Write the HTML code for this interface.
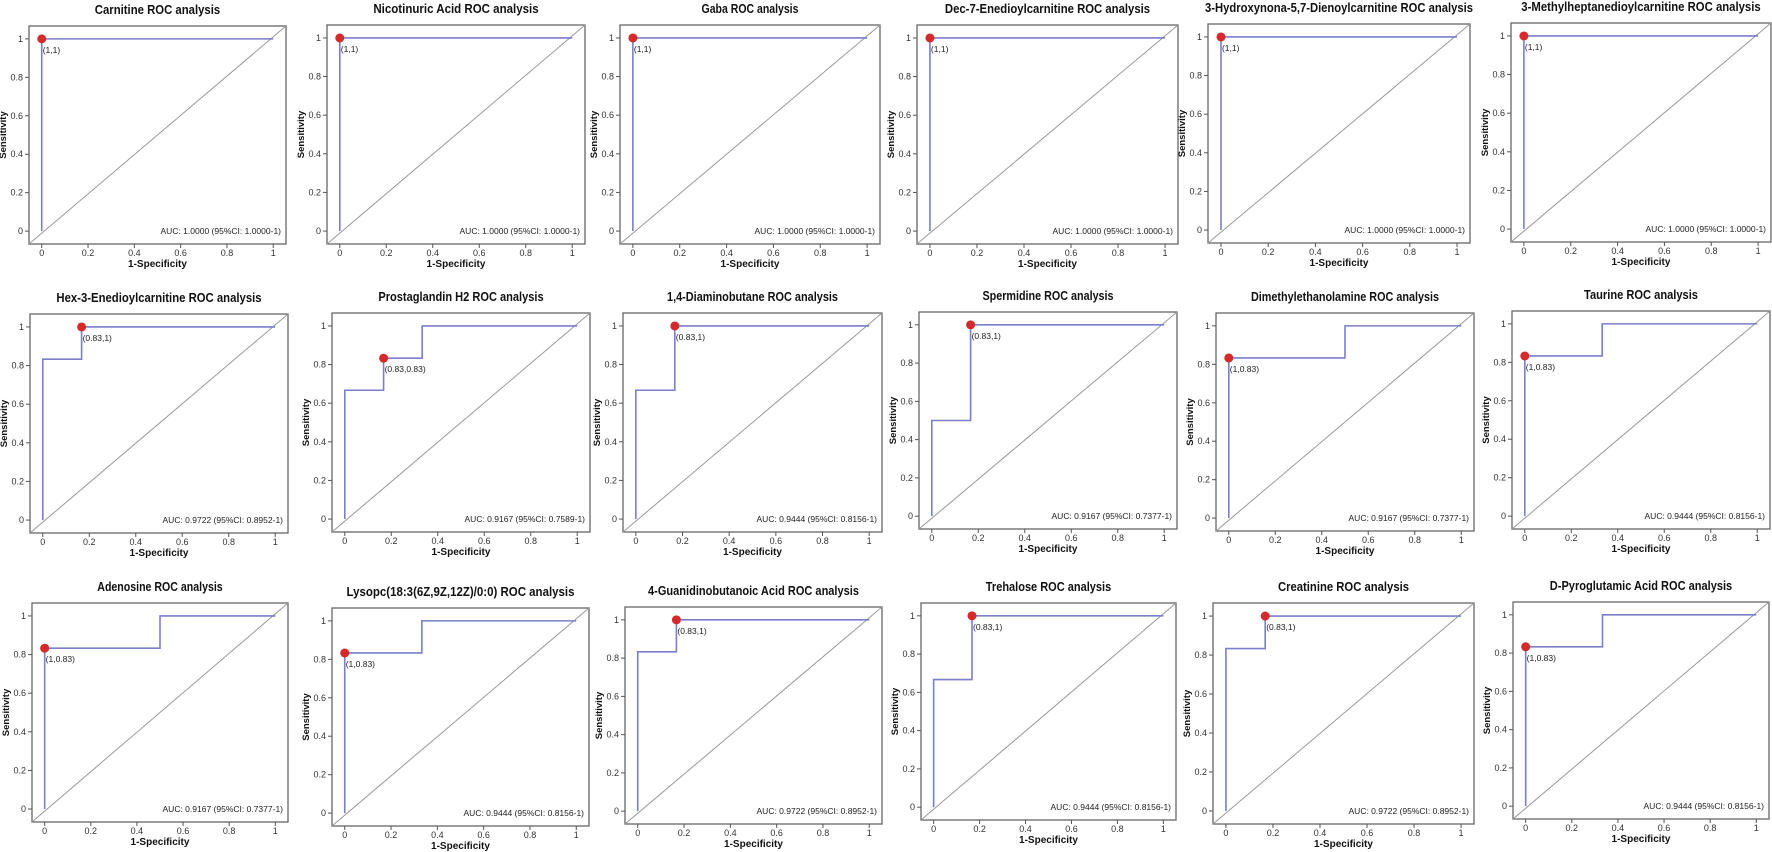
<!DOCTYPE html>
<html><head><meta charset="utf-8"><style>
html,body{margin:0;padding:0;background:#fff;}
svg{display:block;font-family:"Liberation Sans",Arial,sans-serif;}
</style></head><body>
<svg id="chart" width="1772" height="852" viewBox="0 0 1772 852" xmlns="http://www.w3.org/2000/svg"></svg>
<script>
const titles = ["Carnitine","Nicotinuric Acid","Gaba","Dec-7-Enedioylcarnitine","3-Hydroxynona-5,7-Dienoylcarnitine","3-Methylheptanedioylcarnitine",
"Hex-3-Enedioylcarnitine","Prostaglandin H2","1,4-Diaminobutane","Spermidine","Dimethylethanolamine","Taurine",
"Adenosine","Lysopc(18:3(6Z,9Z,12Z)/0:0)","4-Guanidinobutanoic Acid","Trehalose","Creatinine","D-Pyroglutamic Acid"];
const fprSeries = [
[0,0,1],[0,0,1],[0,0,1],[0,0,1],[0,0,1],[0,0,1],
[0,0,0.167,0.167,1],[0,0,0.167,0.167,0.333,0.333,1],[0,0,0.167,0.167,1],[0,0,0.167,0.167,1],[0,0,0.5,0.5,1],[0,0,0.333,0.333,1],
[0,0,0.5,0.5,1],[0,0,0.333,0.333,1],[0,0,0.167,0.167,1],[0,0,0.167,0.167,1],[0,0,0.167,0.167,1],[0,0,0.333,0.333,1]];
const tprSeries = [
[0,1,1],[0,1,1],[0,1,1],[0,1,1],[0,1,1],[0,1,1],
[0,0.833,0.833,1,1],[0,0.667,0.667,0.833,0.833,1,1],[0,0.667,0.667,1,1],[0,0.5,0.5,1,1],[0,0.833,0.833,1,1],[0,0.833,0.833,1,1],
[0,0.833,0.833,1,1],[0,0.833,0.833,1,1],[0,0.833,0.833,1,1],[0,0.667,0.667,1,1],[0,0.833,0.833,1,1],[0,0.833,0.833,1,1]];
const optFpr = [0,0,0,0,0,0, 0.167,0.167,0.167,0.167,0,0, 0,0,0.167,0.167,0.167,0];
const optTpr = [1,1,1,1,1,1, 1,0.833,1,1,0.833,0.833, 0.833,0.833,1,1,1,0.833];
const optLabels = ["(1,1)","(1,1)","(1,1)","(1,1)","(1,1)","(1,1)","(0.83,1)","(0.83,0.83)","(0.83,1)","(0.83,1)","(1,0.83)","(1,0.83)","(1,0.83)","(1,0.83)","(0.83,1)","(0.83,1)","(0.83,1)","(1,0.83)"];
const aucLabels = ["AUC: 1.0000 (95%CI: 1.0000-1)","AUC: 1.0000 (95%CI: 1.0000-1)","AUC: 1.0000 (95%CI: 1.0000-1)","AUC: 1.0000 (95%CI: 1.0000-1)","AUC: 1.0000 (95%CI: 1.0000-1)","AUC: 1.0000 (95%CI: 1.0000-1)",
"AUC: 0.9722 (95%CI: 0.8952-1)","AUC: 0.9167 (95%CI: 0.7589-1)","AUC: 0.9444 (95%CI: 0.8156-1)","AUC: 0.9167 (95%CI: 0.7377-1)","AUC: 0.9167 (95%CI: 0.7377-1)","AUC: 0.9444 (95%CI: 0.8156-1)",
"AUC: 0.9167 (95%CI: 0.7377-1)","AUC: 0.9444 (95%CI: 0.8156-1)","AUC: 0.9722 (95%CI: 0.8952-1)","AUC: 0.9444 (95%CI: 0.8156-1)","AUC: 0.9722 (95%CI: 0.8952-1)","AUC: 0.9444 (95%CI: 0.8156-1)"];
const tickValues = [0,0.2,0.4,0.6,0.8,1];
const tickLabels = ["0","0.2","0.4","0.6","0.8","1"];

// layout (pixel boxes: left, top, right, bottom)
const boxes = [
[29,26,286,244],[327,25,585,244],[620,25,880,244],[917,25,1178,244],[1208,24,1470,243],[1511,23,1771,242],
[30,314,288,533],[332,313,590,532],[623,313,882,532],[919,312,1177,529],[1216,313,1474,531],[1512,311,1770,529],
[32,603,288,822],[332,608,589,826],[625,607,882,824],[921,603,1176,820],[1213,603,1474,824],[1513,602,1769,819]];
const XMIN=-0.055, XMAX=1.055, YMIN=-0.067, YMAX=1.067;
const NS="http://www.w3.org/2000/svg";
const svg=document.getElementById('chart');
function mk(tag, attrs, parent){const e=document.createElementNS(NS,tag);for(const k in attrs)e.setAttribute(k,attrs[k]);parent.appendChild(e);return e;}
function slug(s){return s.toLowerCase().replace(/[^a-z0-9]+/g,'-').replace(/^-|-$/g,'');}

titles.forEach((t,i)=>{
  const [L,T,R,B]=boxes[i];
  const sx=v=>L+(v-XMIN)/(XMAX-XMIN)*(R-L);
  const sy=v=>B-(v-YMIN)/(YMAX-YMIN)*(B-T);
  const g=mk('g',{},svg);
  
  
  const full=t+" ROC analysis";
  const tt=mk('text',{x:(L+R)/2,y:T-12,'text-anchor':'middle','font-size':12.5,'font-weight':'bold',fill:'#111',textLength:full.length*5.7,lengthAdjust:'spacingAndGlyphs'},g);
  tt.textContent=full;
  
  
  const frame=mk('rect',{x:L,y:T,width:R-L,height:B-T,fill:'#fff',stroke:'#666','stroke-width':1.3},g);
  
  
  const diag=mk('line',{x1:L,y1:B,x2:R,y2:T,stroke:'#999','stroke-width':1},g);
  
  
  tickValues.forEach((v,k)=>{
    const yt=sy(v);
    mk('line',{x1:L-4,y1:yt,x2:L,y2:yt,stroke:'#555','stroke-width':1},g);
    const yl=mk('text',{x:L-6,y:yt+3,'text-anchor':'end','font-size':9,fill:'#333'},g);
    yl.textContent=tickLabels[k];
    
    
    const xt=sx(v);
    mk('line',{x1:xt,y1:B,x2:xt,y2:B+4,stroke:'#555','stroke-width':1},g);
    const xl=mk('text',{x:xt,y:B+12,'text-anchor':'middle','font-size':9,fill:'#333'},g);
    xl.textContent=tickLabels[k];
    
    
  });
  const yT=mk('text',{transform:`translate(${L-23},${(T+B)/2}) rotate(-90)`,'text-anchor':'middle','font-size':9.5,'font-weight':'bold',fill:'#111'},g);
  yT.textContent='Sensitivity';
  
  
  const xT=mk('text',{x:(L+R)/2,y:B+23,'text-anchor':'middle','font-size':10,'font-weight':'bold',fill:'#111'},g);
  xT.textContent='1-Specificity';
  
  
  const pts=fprSeries[i].map((f,k)=>sx(f)+','+sy(tprSeries[i][k])).join(' ');
  const curve=mk('polyline',{points:pts,fill:'none',stroke:'#7a7fc8','stroke-width':1.6},g);
  
  
  const auc=mk('text',{x:R-5,y:sy(0)+3,'text-anchor':'end','font-size':8.5,fill:'#222'},g);
  auc.textContent=aucLabels[i];
  
  
  const px=sx(optFpr[i]), py=sy(optTpr[i]);
  const dot=mk('circle',{cx:px,cy:py,r:4.5,fill:'#d42a2a'},g);
  
  
  const ol=mk('text',{x:px+1,y:py+14,'font-size':8.5,fill:'#222'},g);
  ol.textContent=optLabels[i];
  
  
});
</script>
</body></html>
